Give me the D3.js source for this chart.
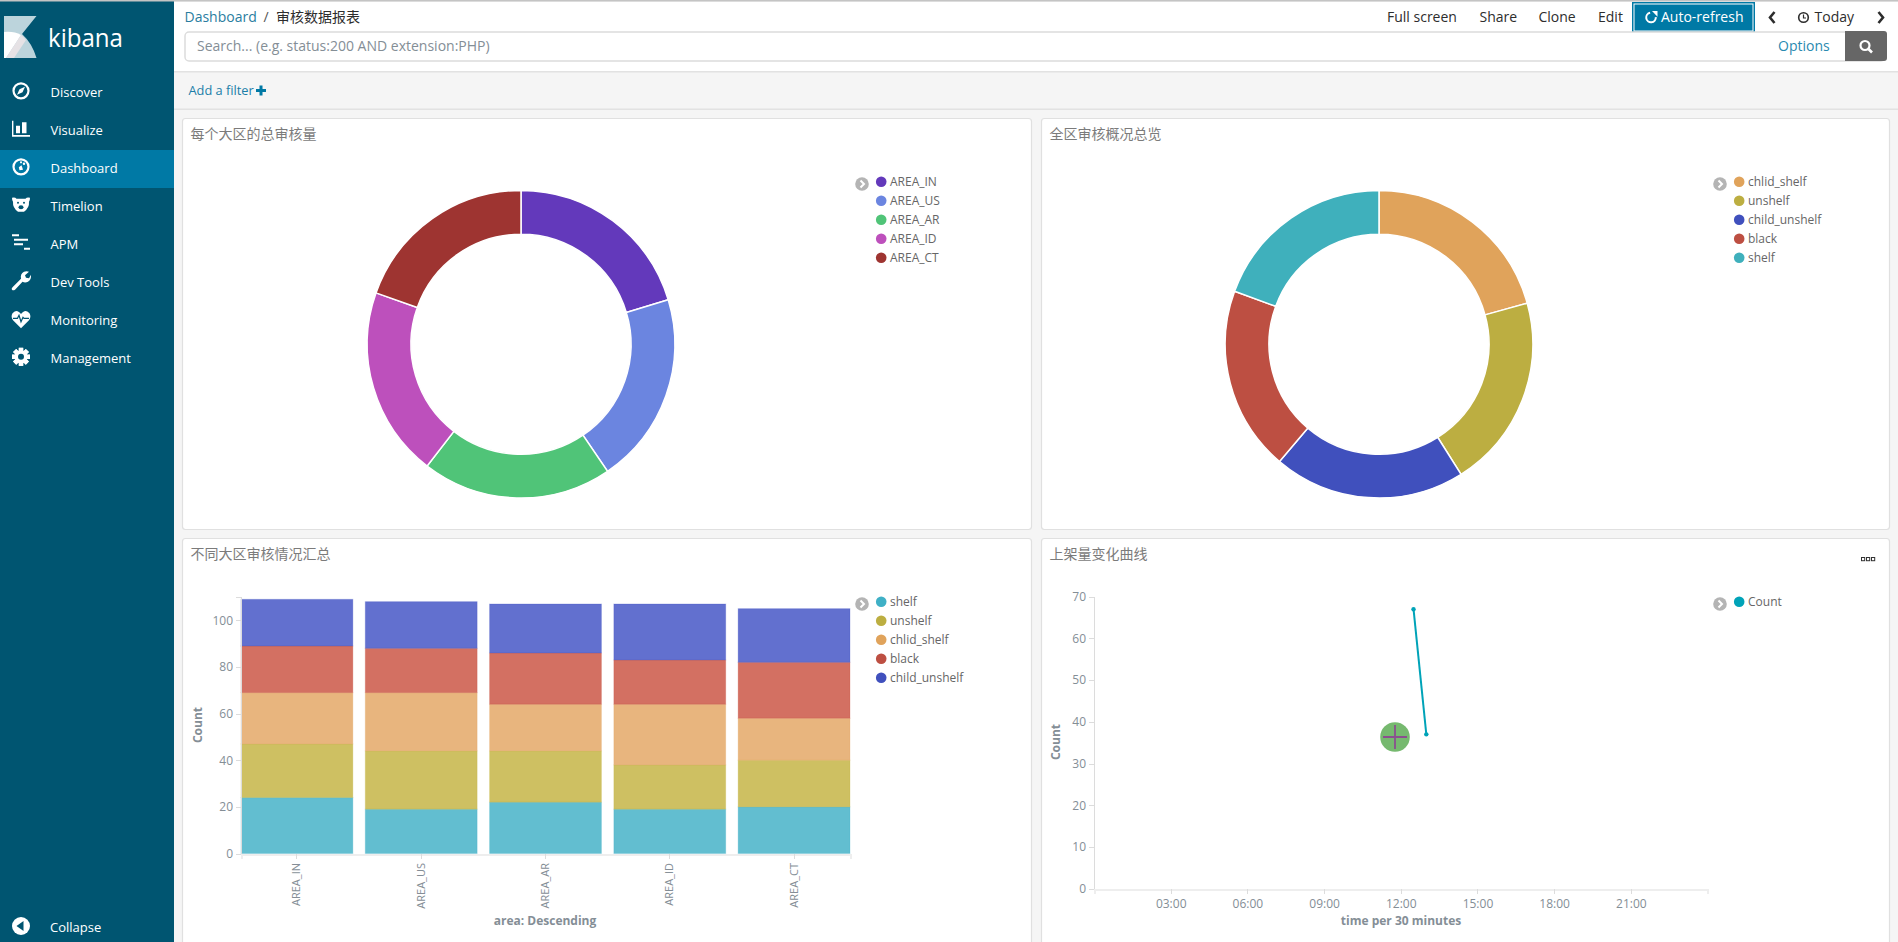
<!DOCTYPE html>
<html><head><meta charset="utf-8">
<script src="https://cdn.jsdelivr.net/npm/d3@7"></script>
<style>
html,body{margin:0;padding:0;background:#fff;overflow:hidden}
svg{display:block}
text{font-family:"Open Sans","Noto Sans CJK SC",sans-serif}
.cn{font-family:"Noto Sans CJK SC","Open Sans",sans-serif}
</style></head><body><div id="c"></div>
<script>
// ---- data ----
const navLabels=["Discover","Visualize","Dashboard","Timelion","APM","Dev Tools","Monitoring","Management"];
const topActions=["Full screen","Share","Clone","Edit"];
const areas=["AREA_IN","AREA_US","AREA_AR","AREA_ID","AREA_CT"];
const areaTotals=[109,108,107,107,105];
const areaColors=["#6339bb","#6b85e0","#50c478","#bd50bc","#9e3431"];
const statusNames=["chlid_shelf","unshelf","child_unshelf","black","shelf"];
const statusTotals=[111,109,108,104,104];
const statusColors=["#e0a35b","#bcae41","#4050bd","#bd4f42","#3fb0bc"];
const stackNames=["shelf","unshelf","chlid_shelf","black","child_unshelf"];
const stackLegend=["#3fb0c6","#bcae41","#e0a35b","#bd4f42","#4050bd"];
const stackColors=["#3fb0c6","#c3b23f","#e3a561","#c9503f","#4050c4"];
const shelf=[24,19,22,19,20];
const unshelf=[23,25,22,19,20];
const chlidShelf=[22,25,20,26,18];
const black=[20,19,22,19,24];
const childUnshelf=[20,20,21,24,23];
const barTicks=[0,20,40,60,80,100];
const lineTicks=[0,10,20,30,40,50,60,70];
const timeTicks=["03:00","06:00","09:00","12:00","15:00","18:00","21:00"];
const lineTimes=["12:30","13:00"];
const lineCounts=[67,37];
const lineColor="#00a3b8";

// ---- page ----
const W=1898,H=942;
const svg=d3.select("#c").append("svg").attr("width",W).attr("height",H);
const rect=(x,y,w,h,f,o={})=>{const r=svg.append("rect").attr("x",x).attr("y",y).attr("width",w).attr("height",h).attr("fill",f);
  if(o.s)r.attr("stroke",o.s).attr("stroke-width",o.sw||1);if(o.r)r.attr("rx",o.r).attr("ry",o.r);return r;};
const txt=(p,x,y,s,size,fill,o={})=>{const t=p.append("text").attr("x",x).attr("y",y).attr("font-size",size).attr("fill",fill).attr("dominant-baseline","central").text(s);
  if(o.a)t.attr("text-anchor",o.a);if(o.b)t.attr("font-weight",o.b);if(o.cn)t.attr("class","cn");return t;};

rect(0,0,W,H,"#f5f5f5");
rect(0,2,W,69,"#fff");
rect(0,0,W,1.5,"#c4c4c4");
rect(174,71,W-174,1.5,"#e2e2e2");
rect(174,108.5,W-174,1.5,"#e2e2e2");

// sidebar
rect(0,0,174,H,"#005571");
rect(0,0,174,1.5,"#c4c4c4");
rect(0,150,174,38,"#0079a5");
svg.append("path").attr("fill","#bcd4dc").attr("d","M4,16H36.5L22,34Q32,43 36.5,58H4Z");
svg.append("path").attr("fill","#fff").attr("d","M4,32Q14,31 21,35L6,58H4Z");
svg.append("path").attr("fill","#e6e2e5").attr("d","M21,35Q24,37 26,40L14,58H6Z");
txt(svg,48,37,"kibana",25,"#fff").attr("textLength",75).attr("lengthAdjust","spacingAndGlyphs");
navLabels.forEach((s,i)=>txt(svg,50.5,91.7+38*i,s,13,"#fff"));
txt(svg,50,926.5,"Collapse",13,"#fff");

const ic=(i)=>svg.append("g").attr("transform",`translate(21,${90.8+38*i})`).attr("fill","#fff").attr("stroke","none");
// compass
let g=ic(0);g.append("circle").attr("r",7.5).attr("fill","none").attr("stroke","#fff").attr("stroke-width",2.2);
g.append("path").attr("d","M4,-4L1.5,1.5L-4,4L-1.5,-1.5Z");
// bars
g=ic(1);g.append("path").attr("d","M-9,-8H-7.6V6.2H9V8H-9Z");g.append("path").attr("d","M-5,-3H-1V4.5H-5ZM1,-6.5H5.5V4.5H1Z");
// gauge
g=ic(2);g.append("circle").attr("r",7.5).attr("fill","none").attr("stroke","#fff").attr("stroke-width",2.2);
g.append("path").attr("d","M-2.2,0.5L0.5,-1.5L2,3L-1.5,3.5Z");g.append("circle").attr("cx",3).attr("cy",-3).attr("r",1.2);g.append("circle").attr("cx",0).attr("cy",-4.5).attr("r",1.1);
// bear
g=ic(3);g.append("path").attr("d","M-9,-7Q-6,-8 -4.5,-6H4.5Q6,-8 9,-7Q9,-4 8,-3Q8.5,3 3,7H-3Q-8.5,3 -8,-3Q-9,-4 -9,-7Z");
g.append("circle").attr("cx",-3).attr("cy",-2).attr("r",1).attr("fill","#005571");g.append("circle").attr("cx",3).attr("cy",-2).attr("r",1).attr("fill","#005571");
g.append("ellipse").attr("cy",2.5).attr("rx",2.5).attr("ry",2).attr("fill","#005571");
// apm
g=ic(4);g.append("path").attr("d","M-9,-8.5H-2V-6.5H-9ZM-7,-4H7V-2H-7ZM-7,0.5H2V2.5H-7ZM3,5H9V7H3Z");
// wrench
g=ic(5);g.append("path").attr("d","M-8.5,6.5L0,-2Q-1,-7 3,-9Q5.5,-10 8,-9L4,-5.5L5,-3L8,-2.5L10,-6Q10.5,-1 7,1Q4,2.5 1.5,1L-6,9Q-8,10 -9,9Q-10,8 -8.5,6.5Z");
// heart
g=ic(6);g.append("path").attr("d","M0,9.5L-8,1.5Q-10.5,-2 -8.5,-5.5Q-5,-9 -2.5,-7Q-1,-6 0,-4.8Q1,-6 2.5,-7Q5,-9 8.5,-5.5Q10.5,-2 8,1.5Z");
g.append("path").attr("d","M-8,-0.5H-3.5L-2,-3.5L0,3L2,-1.5L3,-0.5H8").attr("fill","none").attr("stroke","#005571").attr("stroke-width",1.2);
// gear
g=ic(7);d3.range(8).forEach(k=>g.append("rect").attr("x",-2.2).attr("y",-9).attr("width",4.4).attr("height",18).attr("transform",`rotate(${k*45})`));
g.append("circle").attr("r",6.5);g.append("circle").attr("r",3).attr("fill","#005571");
// collapse
g=svg.append("g").attr("transform","translate(21,926)");g.append("circle").attr("r",9).attr("fill","#fff");g.append("path").attr("d","M-4.5,0L2.5,-5V5Z").attr("fill","#005571");

// top bar
txt(svg,184.5,16,"Dashboard",14,"#2a7da0");
txt(svg,263.5,16,"/",14,"#555");
txt(svg,276,16,"审核数据报表",14,"#2d2d2d",{cn:1});
const actX=[1387,1479.5,1538.5,1598];
topActions.forEach((s,i)=>txt(svg,actX[i],16.5,s,14,"#2d2d2d"));
rect(1632.5,2.5,122,30,"#0079a5",{s:"#0079a5"});
rect(1634,4,119,27,"#0079a5",{s:"#fff"});
g=svg.append("g").attr("transform","translate(1651,17.5)");
g.append("path").attr("d",d3.arc()({innerRadius:3.8,outerRadius:5.8,startAngle:1.5,endAngle:6.1})).attr("fill","#fff");
g.append("path").attr("d","M1,-6.5L6.5,-6.5L6.5,-0.8Z").attr("fill","#fff");
txt(svg,1661,16.5,"Auto-refresh",14,"#fff");
svg.append("path").attr("d","M1774.5,12L1770,17.5L1774.5,23").attr("fill","none").attr("stroke","#2d2d2d").attr("stroke-width",2.6);
svg.append("path").attr("d","M1878.5,12L1883,17.5L1878.5,23").attr("fill","none").attr("stroke","#2d2d2d").attr("stroke-width",2.6);
svg.append("circle").attr("cx",1803.5).attr("cy",17.5).attr("r",4.8).attr("fill","none").attr("stroke","#2d2d2d").attr("stroke-width",1.6);
svg.append("path").attr("d","M1803.5,14.5V18H1806").attr("fill","none").attr("stroke","#2d2d2d").attr("stroke-width",1.2);
txt(svg,1814.5,16.5,"Today",14,"#2d2d2d");

// search
rect(185,32,1700,29,"#fff",{s:"#dcdcdc",sw:1.5,r:4});
txt(svg,197,45.3,"Search... (e.g. status:200 AND extension:PHP)",14,"#848e96");
txt(svg,1778,45.3,"Options",14,"#2a8ab0");
rect(1845,31,42,30,"#666",{r:3});
rect(1845,31,6,30,"#666");
g=svg.append("g").attr("transform","translate(1865.5,46)");
g.append("circle").attr("cx",-0.5).attr("cy",-0.5).attr("r",4.5).attr("fill","none").attr("stroke","#fff").attr("stroke-width",2.2);
g.append("path").attr("d","M3,3L6.5,6.5").attr("stroke","#fff").attr("stroke-width",2.6);
txt(svg,188.5,90,"Add a filter",12.8,"#1b7ea8");
svg.append("path").attr("d","M256,90.5H266M261,85.5V95.5").attr("stroke","#0079a5").attr("stroke-width",3);

// panels
const panels=[[182.5,118.5,849,411,"每个大区的总审核量"],[1041.5,118.5,848,411,"全区审核概况总览"],[182.5,538.5,849,420,"不同大区审核情况汇总"],[1041.5,538.5,848,420,"上架量变化曲线"]];
panels.forEach(p=>{rect(p[0],p[1],p[2],p[3],"#fff",{s:"#e0e0e0",sw:1.2,r:3});
  txt(svg,p[0]+8,p[1]+14.5,p[4],14,"#7b7b7b",{cn:1});});
g=svg.append("g").attr("fill","none").attr("stroke","#333").attr("stroke-width",1);
[1861.5,1866.5,1871.5].forEach(x=>g.append("rect").attr("x",x).attr("y",557.5).attr("width",3.2).attr("height",3.2));

// legends
function legend(cx,ty,names,colors){
  const chev=svg.append("g").attr("transform",`translate(${cx},${ty+2.3})`);
  chev.append("circle").attr("r",6.8).attr("fill","#b4b4b4");
  chev.append("path").attr("d","M-1.5,-3.5L2,0L-1.5,3.5").attr("fill","none").attr("stroke","#fff").attr("stroke-width",2);
  names.forEach((s,i)=>{
    svg.append("circle").attr("cx",cx+19.2).attr("cy",ty+19*i).attr("r",5.3).attr("fill",colors[i]);
    txt(svg,cx+28,ty+19*i,s,12,"#666");
  });
}
legend(862,181.7,areas,areaColors);
legend(1720,181.7,statusNames,statusColors);
legend(862,601.7,stackNames,stackLegend);
legend(1720,601.7,["Count"],[lineColor]);

// donuts
function donut(cx,cy,vals,colors){
  const arc=d3.arc().innerRadius(110).outerRadius(153.8);
  const pie=d3.pie().sort(null)(vals);
  svg.append("g").attr("transform",`translate(${cx},${cy})`).selectAll("path").data(pie).join("path")
    .attr("d",arc).attr("fill",(d,i)=>colors[i]).attr("stroke","#fff").attr("stroke-width",1.5);
}
donut(521,344.2,areaTotals,areaColors);
donut(1379,344.2,statusTotals,statusColors);

// axis helper
function styleAxis(a){a.selectAll("path,line").attr("stroke","#dcdcdc").attr("shape-rendering","crispEdges");
  a.selectAll("text").attr("fill","#848e96").attr("font-size",12);}

// stacked bars
const stackRows=areas.map((a,i)=>({area:a,shelf:shelf[i],unshelf:unshelf[i],chlid_shelf:chlidShelf[i],black:black[i],child_unshelf:childUnshelf[i]}));
const series=d3.stack().keys(stackNames)(stackRows);
const bx=d3.scaleBand().domain(areas).range([241,850]).paddingInner(0.1).paddingOuter(0);
const by=d3.scaleLinear().domain([0,110]).range([853.5,597]);
const barG=svg.append("g");
series.forEach((s,k)=>{
  barG.selectAll(null).data(s).join("rect")
   .attr("x",d=>bx(d.data.area)).attr("width",bx.bandwidth())
   .attr("y",d=>by(d[1])).attr("height",d=>by(d[0])-by(d[1]))
   .attr("fill",stackColors[k]).attr("fill-opacity",0.82)
   .attr("stroke",stackColors[k]).attr("stroke-opacity",0.25).attr("stroke-width",1);
});
const byA=svg.append("g").attr("transform","translate(241,0)").call(d3.axisLeft(by).tickValues(barTicks).tickSize(5).tickSizeOuter(5).tickPadding(3));
styleAxis(byA);
const bxA=svg.append("g").attr("transform","translate(0,854)").call(d3.axisBottom(bx).tickSize(5).tickSizeOuter(5));
styleAxis(bxA);bxA.select(".domain").attr("stroke","#eee").attr("stroke-width",2);
bxA.selectAll("text").attr("font-family","'Liberation Sans',sans-serif").attr("font-size",11)
  .attr("transform","rotate(-90)").attr("text-anchor","end").attr("x",-9).attr("y",0).attr("dy","0.32em");
txt(svg,0,0,"Count",12,"#848e96",{a:"middle",b:"bold"}).attr("transform","translate(197,725) rotate(-90)");
txt(svg,545,920,"area: Descending",12,"#848e96",{a:"middle",b:"bold"});

// line chart
const parseT=d3.utcParse("%H:%M");
const fmtT=d3.utcFormat("%H:%M");
const lx=d3.scaleUtc().domain([parseT("00:00"),d3.utcDay.offset(parseT("00:00"),1)]).range([1094,1707.5]);
const ly=d3.scaleLinear().domain([0,70]).range([888.7,596.7]);
const lyA=svg.append("g").attr("transform","translate(1094,0)").call(d3.axisLeft(ly).tickValues(lineTicks).tickSize(5).tickSizeOuter(5).tickPadding(3));
styleAxis(lyA);
const lxA=svg.append("g").attr("transform","translate(0,889)").call(d3.axisBottom(lx).tickValues(timeTicks.map(parseT)).tickFormat(fmtT).tickSize(5).tickSizeOuter(5).tickPadding(3));
styleAxis(lxA);lxA.select(".domain").attr("stroke","#eee").attr("stroke-width",2);
lxA.selectAll("text").attr("dy","0.9em");
const linePts=lineTimes.map((t,i)=>[parseT(t),lineCounts[i]]);
svg.append("path").attr("d",d3.line().x(d=>lx(d[0])).y(d=>ly(d[1]))(linePts)).attr("fill","none").attr("stroke",lineColor).attr("stroke-width",2);
svg.selectAll(null).data(linePts).join("circle").attr("cx",d=>lx(d[0])).attr("cy",d=>ly(d[1])).attr("r",2.2).attr("fill",lineColor);
txt(svg,0,0,"Count",12,"#848e96",{a:"middle",b:"bold"}).attr("transform","translate(1055,742) rotate(-90)");
txt(svg,1401,920,"time per 30 minutes",12,"#848e96",{a:"middle",b:"bold"});

// mouse highlight marker
g=svg.append("g").attr("transform","translate(1395,737)");
g.append("circle").attr("r",14.8).attr("fill","#76b96f");
g.append("path").attr("d","M-12,0H12M0,-12V12").attr("stroke","#8b4f8f").attr("stroke-width",1.8);
</script></body></html>
